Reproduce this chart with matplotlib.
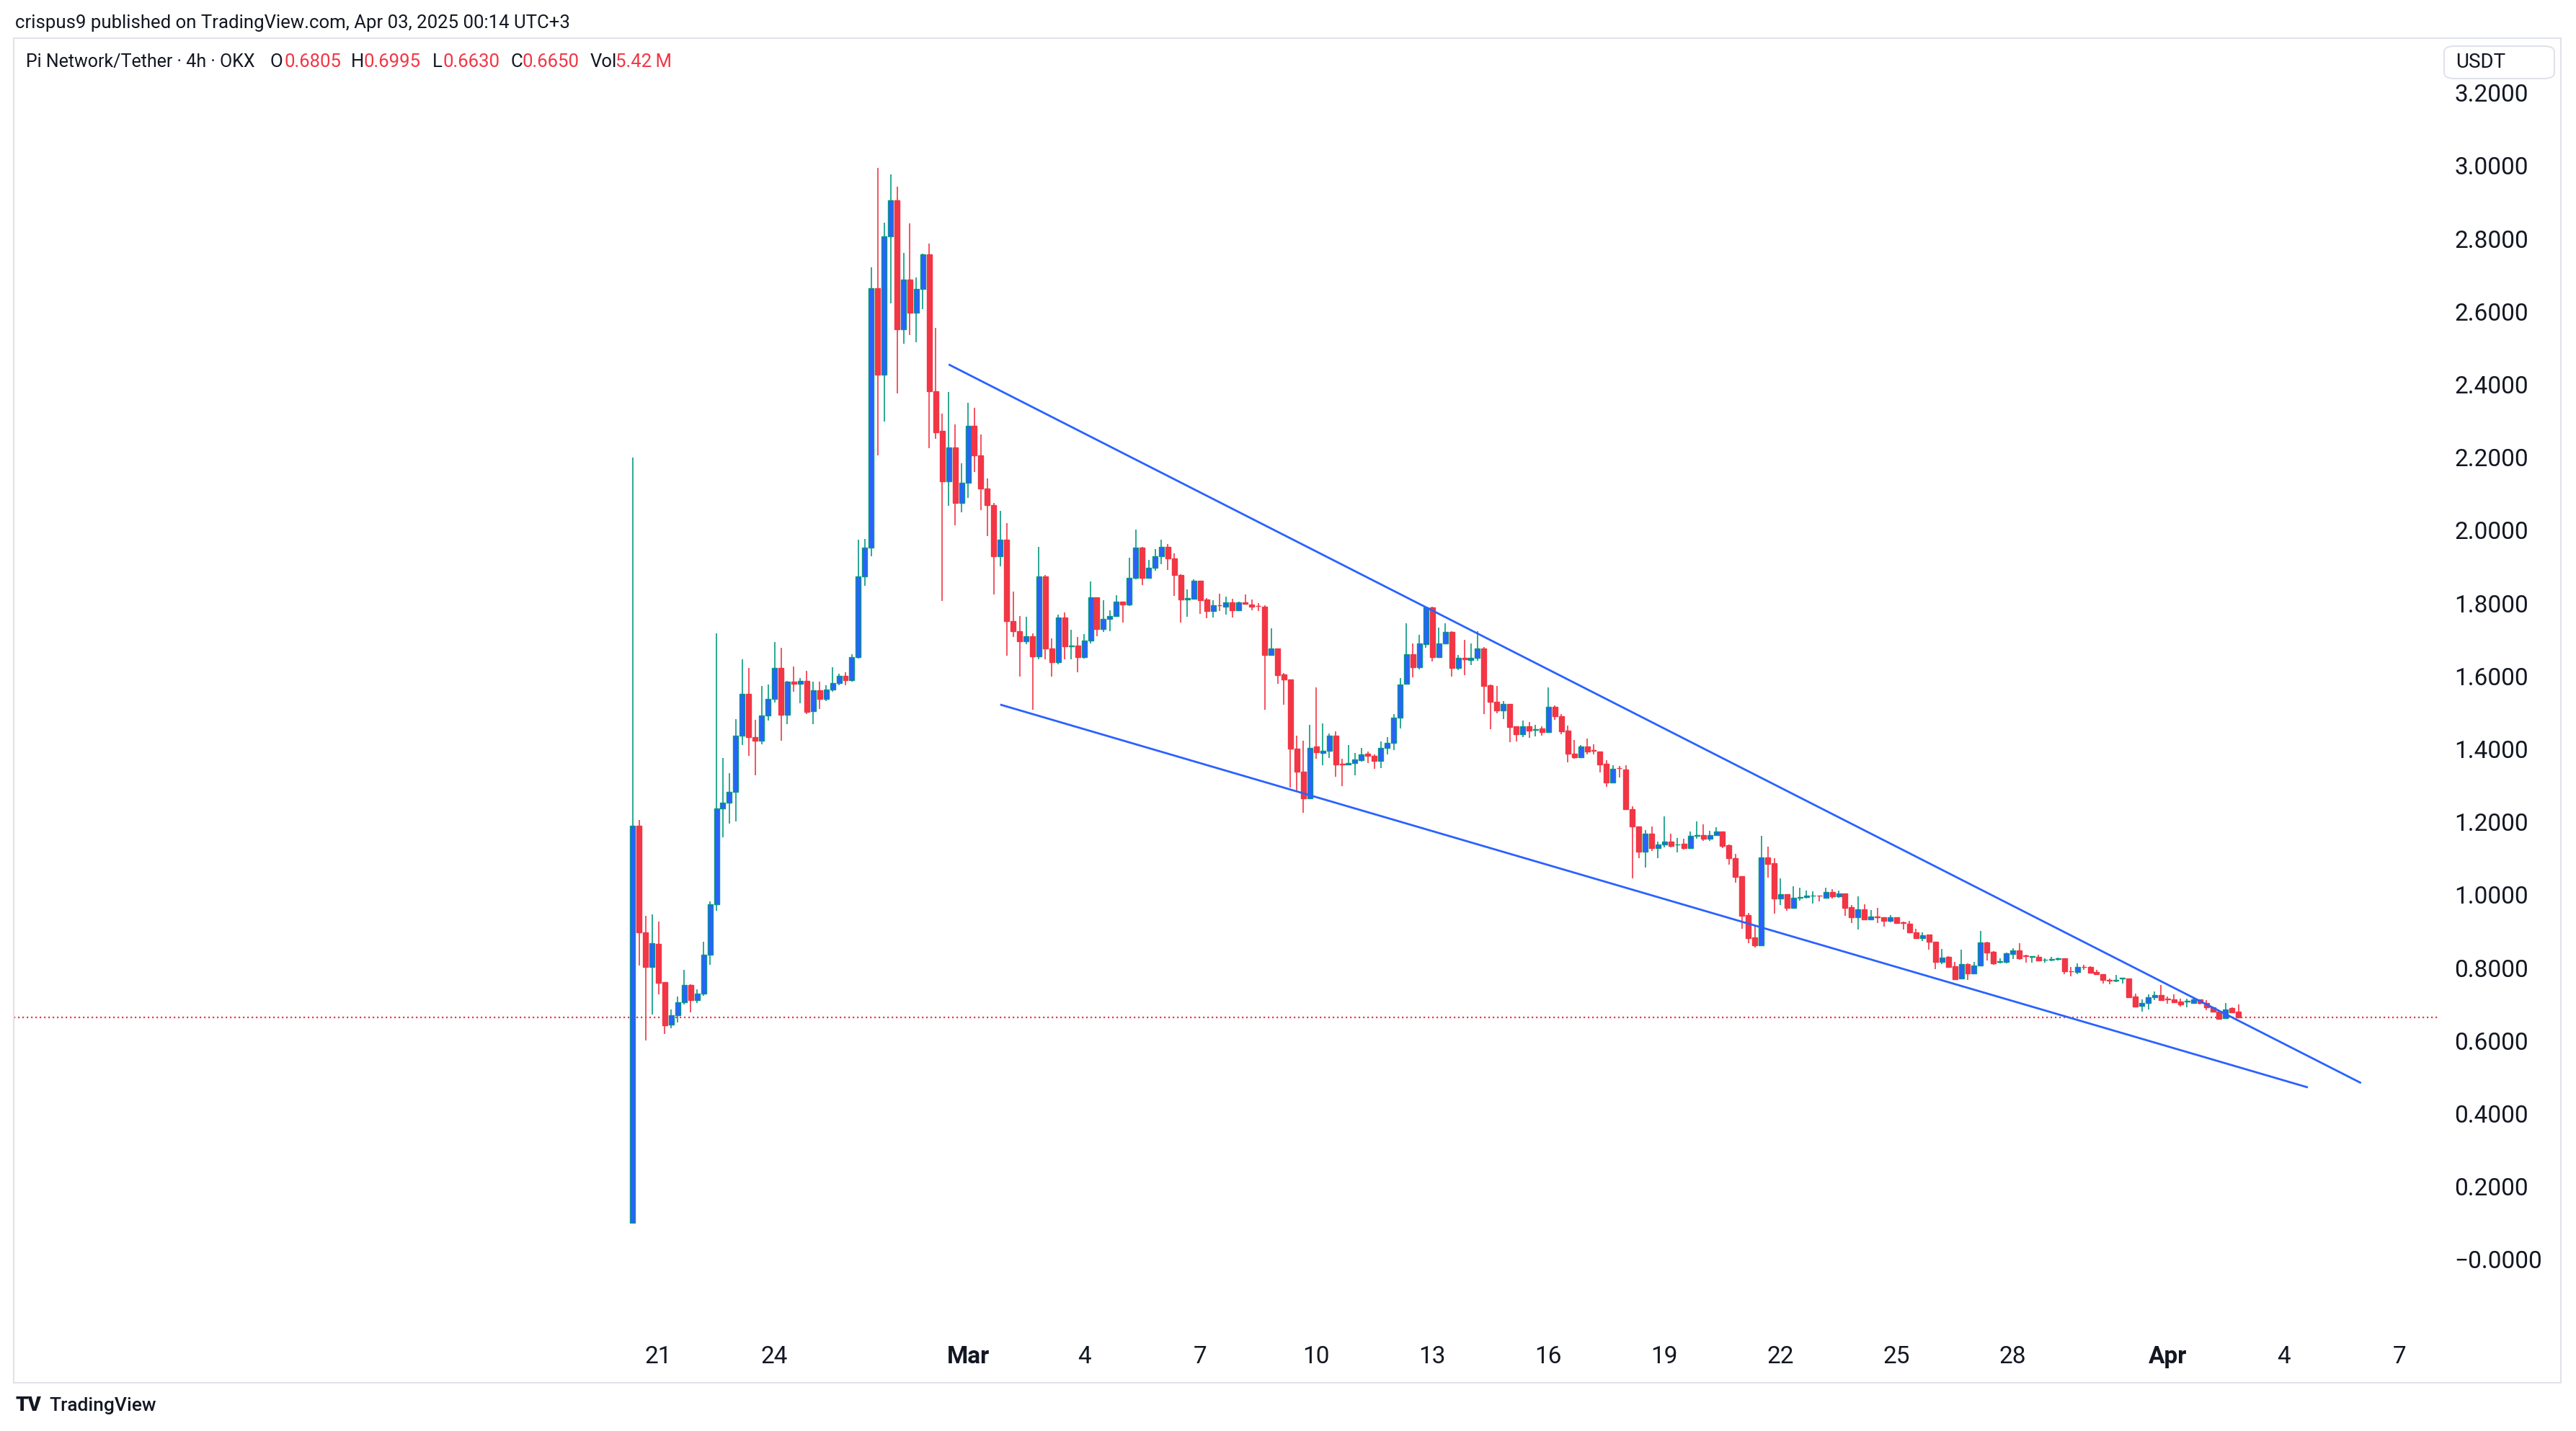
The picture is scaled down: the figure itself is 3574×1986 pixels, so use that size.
import matplotlib
matplotlib.use('Agg')
import matplotlib.pyplot as plt
import matplotlib.dates as mdates
from matplotlib.patches import Rectangle, FancyBboxPatch
from matplotlib.ticker import MultipleLocator, FuncFormatter
import numpy as np
import pandas as pd

plt.rcParams['font.family'] = ['Roboto', 'DejaVu Sans']

# Pi Network/Tether, OKX, 4h candles from 2025-02-20 08:00 UTC
first_bar = '2025-02-20 08:00'
opens = [0.100, 1.190, 0.898, 0.803, 0.866, 0.761, 0.645, 0.670, 0.705, 0.753,
         0.711, 0.730, 0.836, 0.974, 1.237, 1.253, 1.283, 1.437, 1.551, 1.433,
         1.423, 1.493, 1.538, 1.622, 1.495, 1.584, 1.580, 1.586, 1.504, 1.561,
         1.538, 1.564, 1.582, 1.601, 1.588, 1.653, 1.874, 1.953, 2.665, 2.426,
         2.807, 2.905, 2.552, 2.687, 2.596, 2.662, 2.756, 2.382, 2.273, 2.135,
         2.228, 2.075, 2.131, 2.286, 2.206, 2.115, 2.070, 1.928, 1.974, 1.751,
         1.724, 1.695, 1.709, 1.655, 1.874, 1.675, 1.639, 1.760, 1.681, 1.684,
         1.653, 1.697, 1.816, 1.730, 1.756, 1.765, 1.804, 1.796, 1.869, 1.953,
         1.870, 1.897, 1.928, 1.954, 1.923, 1.878, 1.811, 1.813, 1.862, 1.811,
         1.779, 1.795, 1.791, 1.802, 1.781, 1.802, 1.797, 1.793, 1.791, 1.658,
         1.676, 1.605, 1.590, 1.401, 1.338, 1.265, 1.407, 1.390, 1.395, 1.437,
         1.360, 1.358, 1.362, 1.370, 1.388, 1.381, 1.368, 1.404, 1.417, 1.486,
         1.580, 1.661, 1.625, 1.687, 1.789, 1.653, 1.689, 1.722, 1.622, 1.651,
         1.644, 1.650, 1.676, 1.575, 1.529, 1.505, 1.523, 1.462, 1.440, 1.462,
         1.453, 1.457, 1.447, 1.516, 1.491, 1.450, 1.388, 1.378, 1.407, 1.397,
         1.393, 1.360, 1.309, 1.348, 1.343, 1.235, 1.188, 1.119, 1.167, 1.129,
         1.139, 1.146, 1.138, 1.141, 1.129, 1.163, 1.165, 1.155, 1.165, 1.173,
         1.137, 1.101, 1.051, 0.945, 0.883, 0.862, 1.103, 1.086, 0.991, 1.001,
         0.964, 0.993, 0.995, 0.998, 0.999, 0.993, 1.007, 0.997, 1.004, 0.966,
         0.939, 0.960, 0.933, 0.941, 0.938, 0.928, 0.938, 0.925, 0.920, 0.897,
         0.882, 0.891, 0.871, 0.816, 0.831, 0.804, 0.770, 0.811, 0.785, 0.806,
         0.869, 0.844, 0.817, 0.816, 0.838, 0.847, 0.834, 0.831, 0.831, 0.822,
         0.823, 0.825, 0.827, 0.791, 0.788, 0.803, 0.803, 0.789, 0.783, 0.766,
         0.765, 0.771, 0.770, 0.721, 0.696, 0.703, 0.719, 0.725, 0.715, 0.714,
         0.708, 0.708, 0.704, 0.713, 0.704, 0.691, 0.680, 0.663, 0.689, 0.6805]
highs = [2.200, 1.206, 0.943, 0.947, 0.927, 0.761, 0.686, 0.722, 0.795, 0.755,
         0.741, 0.872, 0.983, 1.718, 1.376, 1.334, 1.483, 1.647, 1.622, 1.481,
         1.574, 1.577, 1.694, 1.678, 1.587, 1.627, 1.594, 1.614, 1.584, 1.584,
         1.575, 1.625, 1.606, 1.610, 1.660, 1.974, 1.976, 2.721, 2.995, 2.844,
         2.977, 2.942, 2.761, 2.842, 2.694, 2.759, 2.787, 2.555, 2.320, 2.379,
         2.291, 2.184, 2.350, 2.336, 2.263, 2.143, 2.075, 2.053, 2.019, 1.832,
         1.764, 1.763, 1.718, 1.955, 1.877, 1.704, 1.769, 1.775, 1.727, 1.708,
         1.715, 1.860, 1.816, 1.808, 1.780, 1.822, 1.804, 1.925, 2.002, 1.954,
         1.918, 1.949, 1.974, 1.963, 1.936, 1.880, 1.837, 1.866, 1.862, 1.814,
         1.808, 1.827, 1.818, 1.812, 1.804, 1.824, 1.811, 1.801, 1.795, 1.732,
         1.676, 1.609, 1.590, 1.437, 1.422, 1.466, 1.569, 1.470, 1.442, 1.449,
         1.373, 1.411, 1.389, 1.404, 1.394, 1.386, 1.420, 1.432, 1.496, 1.594,
         1.745, 1.689, 1.713, 1.791, 1.791, 1.734, 1.746, 1.723, 1.659, 1.700,
         1.689, 1.724, 1.679, 1.577, 1.574, 1.532, 1.523, 1.462, 1.478, 1.474,
         1.466, 1.462, 1.569, 1.520, 1.497, 1.464, 1.424, 1.412, 1.429, 1.414,
         1.393, 1.370, 1.355, 1.353, 1.355, 1.244, 1.188, 1.177, 1.187, 1.146,
         1.215, 1.167, 1.157, 1.154, 1.173, 1.202, 1.193, 1.175, 1.185, 1.173,
         1.139, 1.113, 1.051, 0.951, 0.915, 1.162, 1.132, 1.101, 1.045, 1.001,
         1.024, 1.020, 1.011, 1.009, 0.999, 1.019, 1.015, 1.011, 1.004, 0.972,
         0.996, 0.974, 0.958, 0.964, 0.938, 0.945, 0.938, 0.926, 0.928, 0.908,
         0.897, 0.892, 0.871, 0.852, 0.833, 0.816, 0.850, 0.813, 0.816, 0.902,
         0.872, 0.845, 0.827, 0.841, 0.854, 0.868, 0.836, 0.832, 0.836, 0.827,
         0.831, 0.829, 0.827, 0.803, 0.812, 0.808, 0.805, 0.795, 0.783, 0.770,
         0.781, 0.772, 0.770, 0.729, 0.714, 0.727, 0.736, 0.752, 0.721, 0.727,
         0.715, 0.715, 0.715, 0.713, 0.711, 0.693, 0.681, 0.703, 0.691, 0.6995]
lows = [0.100, 0.806, 0.600, 0.671, 0.728, 0.619, 0.634, 0.651, 0.699, 0.677,
        0.703, 0.723, 0.809, 0.956, 1.159, 1.196, 1.202, 1.412, 1.382, 1.328,
        1.414, 1.478, 1.527, 1.423, 1.468, 1.558, 1.526, 1.497, 1.468, 1.510,
        1.532, 1.558, 1.576, 1.576, 1.584, 1.649, 1.848, 1.928, 2.206, 2.299,
        2.623, 2.375, 2.511, 2.535, 2.515, 2.606, 2.225, 2.250, 1.806, 2.067,
        2.013, 2.050, 2.089, 2.160, 2.055, 1.984, 1.825, 1.902, 1.656, 1.707,
        1.599, 1.687, 1.508, 1.647, 1.647, 1.598, 1.632, 1.646, 1.646, 1.611,
        1.648, 1.689, 1.709, 1.721, 1.723, 1.763, 1.747, 1.793, 1.866, 1.849,
        1.868, 1.890, 1.908, 1.892, 1.821, 1.748, 1.762, 1.811, 1.771, 1.758,
        1.760, 1.779, 1.768, 1.760, 1.778, 1.796, 1.781, 1.778, 1.508, 1.656,
        1.580, 1.522, 1.294, 1.287, 1.226, 1.265, 1.374, 1.356, 1.376, 1.325,
        1.299, 1.358, 1.329, 1.365, 1.361, 1.346, 1.348, 1.386, 1.398, 1.457,
        1.580, 1.596, 1.619, 1.677, 1.640, 1.653, 1.689, 1.598, 1.617, 1.602,
        1.630, 1.642, 1.497, 1.454, 1.499, 1.482, 1.419, 1.420, 1.432, 1.430,
        1.434, 1.437, 1.447, 1.480, 1.440, 1.363, 1.374, 1.376, 1.385, 1.386,
        1.335, 1.297, 1.309, 1.323, 1.233, 1.045, 1.100, 1.076, 1.121, 1.100,
        1.130, 1.130, 1.117, 1.124, 1.129, 1.155, 1.148, 1.149, 1.162, 1.128,
        1.083, 1.034, 0.907, 0.868, 0.856, 0.862, 1.048, 0.949, 0.973, 0.956,
        0.962, 0.984, 0.991, 0.976, 0.983, 0.993, 0.991, 0.993, 0.943, 0.922,
        0.906, 0.933, 0.933, 0.922, 0.914, 0.925, 0.920, 0.906, 0.897, 0.881,
        0.874, 0.850, 0.796, 0.811, 0.802, 0.769, 0.770, 0.767, 0.783, 0.804,
        0.821, 0.808, 0.812, 0.812, 0.825, 0.823, 0.815, 0.815, 0.818, 0.815,
        0.818, 0.821, 0.783, 0.777, 0.783, 0.795, 0.787, 0.783, 0.757, 0.754,
        0.760, 0.757, 0.717, 0.692, 0.679, 0.686, 0.711, 0.710, 0.702, 0.706,
        0.694, 0.691, 0.703, 0.700, 0.683, 0.679, 0.658, 0.661, 0.676, 0.6630]
closes = [1.190, 0.898, 0.803, 0.867, 0.758, 0.643, 0.669, 0.705, 0.753, 0.711,
          0.730, 0.836, 0.974, 1.237, 1.253, 1.283, 1.437, 1.551, 1.433, 1.423,
          1.493, 1.538, 1.622, 1.495, 1.584, 1.580, 1.586, 1.502, 1.561, 1.538,
          1.564, 1.582, 1.601, 1.588, 1.653, 1.874, 1.953, 2.665, 2.426, 2.807,
          2.905, 2.552, 2.687, 2.596, 2.662, 2.756, 2.382, 2.269, 2.135, 2.228,
          2.075, 2.131, 2.286, 2.205, 2.115, 2.070, 1.928, 1.974, 1.751, 1.724,
          1.695, 1.709, 1.655, 1.874, 1.675, 1.639, 1.760, 1.681, 1.684, 1.653,
          1.697, 1.816, 1.730, 1.756, 1.765, 1.804, 1.796, 1.869, 1.953, 1.870,
          1.897, 1.928, 1.954, 1.923, 1.878, 1.811, 1.814, 1.862, 1.809, 1.779,
          1.795, 1.794, 1.802, 1.781, 1.802, 1.798, 1.791, 1.792, 1.658, 1.676,
          1.603, 1.590, 1.401, 1.337, 1.265, 1.404, 1.391, 1.396, 1.437, 1.358,
          1.358, 1.362, 1.371, 1.386, 1.381, 1.368, 1.404, 1.417, 1.486, 1.578,
          1.661, 1.625, 1.689, 1.789, 1.653, 1.689, 1.721, 1.622, 1.650, 1.646,
          1.650, 1.676, 1.574, 1.529, 1.505, 1.523, 1.460, 1.440, 1.462, 1.450,
          1.454, 1.447, 1.516, 1.490, 1.449, 1.388, 1.378, 1.407, 1.394, 1.396,
          1.358, 1.309, 1.345, 1.347, 1.235, 1.188, 1.119, 1.167, 1.129, 1.138,
          1.146, 1.134, 1.139, 1.129, 1.162, 1.164, 1.155, 1.165, 1.173, 1.134,
          1.100, 1.050, 0.943, 0.882, 0.862, 1.103, 1.085, 0.991, 1.001, 0.964,
          0.993, 0.995, 0.999, 0.999, 0.998, 1.007, 0.997, 1.004, 0.964, 0.939,
          0.960, 0.933, 0.941, 0.938, 0.928, 0.938, 0.922, 0.922, 0.897, 0.882,
          0.890, 0.871, 0.816, 0.829, 0.803, 0.769, 0.810, 0.785, 0.806, 0.869,
          0.842, 0.812, 0.818, 0.839, 0.847, 0.827, 0.833, 0.832, 0.821, 0.823,
          0.824, 0.827, 0.790, 0.790, 0.802, 0.802, 0.787, 0.783, 0.766, 0.765,
          0.766, 0.772, 0.719, 0.694, 0.703, 0.719, 0.725, 0.712, 0.714, 0.706,
          0.700, 0.709, 0.713, 0.704, 0.691, 0.679, 0.661, 0.686, 0.678, 0.6650]

# falling wedge trend lines: (time, price) end points
upper_line = [('2025-02-28 12:00', 2.455), ('2025-04-06 00:00', 0.484)]
lower_line = [('2025-03-01 20:00', 1.522), ('2025-04-04 15:00', 0.472)]
last_price = 0.6650

tick_days = ['2025-02-21', '2025-02-24', '2025-03-01', '2025-03-04', '2025-03-07',
             '2025-03-10', '2025-03-13', '2025-03-16', '2025-03-19', '2025-03-22',
             '2025-03-25', '2025-03-28', '2025-04-01', '2025-04-04', '2025-04-07']

UP_BODY = '#2962FF'
UP = '#089981'
DOWN = '#F23645'
TEXT = '#131722'

W, H = 3574, 1986
fig = plt.figure(figsize=(W / 100, H / 100), dpi=100)
ax = fig.add_axes([19 / W, 1 - 1845 / H, (3382 - 19) / W, (1845 - 53) / H])

times = pd.date_range(first_bar, periods=len(opens), freq='4h')
x = mdates.date2num(times.to_pydatetime())
o = np.array(opens); h = np.array(highs); l = np.array(lows); c = np.array(closes)
up = c >= o
edge = np.where(up, UP, DOWN)
face = np.where(up, UP_BODY, DOWN)
bar_w = (4 / 24) * 0.78

ax.vlines(x, l, h, colors=edge, linewidth=1.2, zorder=2)
ax.bar(x, np.abs(c - o), bottom=np.minimum(o, c), width=bar_w, color=face,
       edgecolor=edge, linewidth=1.0, zorder=3)

for line in (upper_line, lower_line):
    lx = mdates.date2num([pd.Timestamp(t).to_pydatetime() for t, _ in line])
    ly = [p for _, p in line]
    ax.plot(lx, ly, color='#2962FF', linewidth=2.0, solid_capstyle='butt', zorder=4)

ax.axhline(last_price, color=DOWN, linewidth=1.6, dashes=(1.0, 1.7), zorder=1)

t0 = mdates.date2num(times[0].to_pydatetime())
ax.set_xlim(t0 - 15.994, t0 + 46.644)
ax.set_ylim(-0.1917, 3.3498)

# price scale on the right
ax.yaxis.tick_right()
ax.yaxis.set_major_locator(MultipleLocator(0.2))
ax.yaxis.set_major_formatter(FuncFormatter(
    lambda v, _: '\u22120.0000' if abs(v) < 1e-9 else f'{v:.4f}'))
ax.tick_params(axis='y', length=0, pad=17, labelsize=24, labelcolor=TEXT)

# time scale
tick_dt = [pd.Timestamp(d) for d in tick_days]
tick_lbl = [d.strftime('%b') if d.day == 1 else str(d.day) for d in tick_dt]
ax.set_xticks(mdates.date2num([d.to_pydatetime() for d in tick_dt]), tick_lbl)
ax.tick_params(axis='x', length=0, pad=16, labelsize=24, labelcolor=TEXT)
for lab, d in zip(ax.get_xticklabels(), tick_dt):
    if d.day == 1:
        lab.set_fontweight('bold')

for s in ax.spines.values():
    s.set_visible(False)
ax.set_facecolor('white')

# panel frame
fig.patches.append(Rectangle((19 / W, 1 - 1919 / H), (3553 - 19) / W, (1919 - 53) / H,
                             transform=fig.transFigure, fill=False,
                             edgecolor='#E0E3EB', linewidth=1.5))
fig.patches.append(FancyBboxPatch((3391 / W, 1 - 109 / H), (3544 - 3391) / W, (109 - 64) / H,
                                  boxstyle='round,pad=0,rounding_size=0.004',
                                  transform=fig.transFigure, facecolor='white',
                                  edgecolor='#E0E3EB', linewidth=1.5))
fig.text(3407 / W, 1 - 87 / H, 'USDT', fontsize=20, color=TEXT, va='center', ha='left')

# headers
fig.text(21 / W, 1 - 32 / H, 'crispus9 published on TradingView.com, Apr 03, 2025 00:14 UTC+3',
         fontsize=18.5, color=TEXT, va='center', ha='left')
hy = 1 - 86 / H
fig.text(36 / W, hy, 'Pi Network/Tether \u00b7 4h \u00b7 OKX', fontsize=18, color=TEXT,
         va='center', ha='left')
parts = [(374, 'O', TEXT), (395, f'{opens[-1]:.4f}', DOWN),
         (487, 'H', TEXT), (505, f'{highs[-1]:.4f}', DOWN),
         (600, 'L', TEXT), (614, f'{lows[-1]:.4f}', DOWN),
         (708, 'C', TEXT), (725, f'{closes[-1]:.4f}', DOWN),
         (819, 'Vol', TEXT), (854, '5.42\u2009M', DOWN)]
for px, s, col in parts:
    fig.text(px / W, hy, s, fontsize=18.5, color=col, va='center', ha='left')

# footer logo
fig.text(22 / W, 1 - 1951 / H, 'TV', fontsize=20, fontweight='black', color=TEXT,
         va='center', ha='left')
fig.text(68 / W, 1 - 1951 / H, 'TradingView', fontsize=19, fontweight='medium', color=TEXT,
         va='center', ha='left')

fig.savefig('out.png', dpi=100, facecolor='white')
